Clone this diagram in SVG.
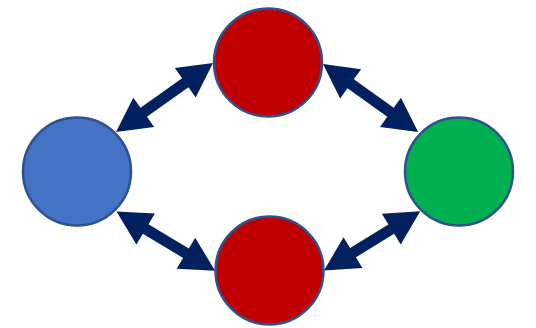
<svg xmlns="http://www.w3.org/2000/svg" width="536" height="328" viewBox="0 0 536 328">
<style>
.node{stroke:#2F528F;stroke-width:2.5}
.arrow{fill:#002060}
</style>
<rect width="536" height="328" fill="#fff"/>
<g id="connectors">
<path class="arrow" transform="translate(116,132) rotate(-35.4)" d="M0,0 L34,-18 L34,-5.5 L85,-5.5 L85,-18 L119,0 L85,18 L85,5.5 L34,5.5 L34,18 Z"/>
<path class="arrow" transform="translate(323,64) rotate(35.6)" d="M0,0 L34,-18 L34,-5.5 L83,-5.5 L83,-18 L117,0 L83,18 L83,5.5 L34,5.5 L34,18 Z"/>
<path class="arrow" transform="translate(116.5,211.5) rotate(31)" d="M0,0 L34,-18 L34,-5.5 L81,-5.5 L81,-18 L115,0 L81,18 L81,5.5 L34,5.5 L34,18 Z"/>
<path class="arrow" transform="translate(324,270.5) rotate(-31.6)" d="M0,0 L34,-18 L34,-5.5 L79,-5.5 L79,-18 L113,0 L79,18 L79,5.5 L34,5.5 L34,18 Z"/>
</g>
<g id="node-blue"><circle class="node" cx="77" cy="171.5" r="54" fill="#4472C4"/></g>
<g id="node-top"><circle class="node" cx="268" cy="62.5" r="54" fill="#C00000"/></g>
<g id="node-green"><circle class="node" cx="459" cy="171.5" r="54" fill="#00B050"/></g>
<g id="node-bottom"><circle class="node" cx="269.5" cy="270.5" r="54" fill="#C00000"/></g>
</svg>
